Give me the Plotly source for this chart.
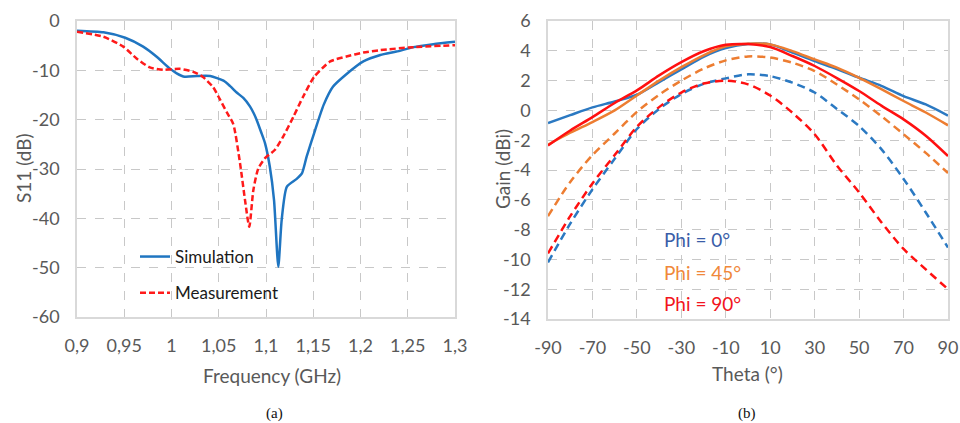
import plotly.graph_objects as go

# ---------------- Panel (a): S11 ----------------
sim_f = [0.900, 0.928, 0.951, 0.970, 0.984, 0.998, 1.0055, 1.014, 1.027, 1.041, 1.055, 1.062,
         1.069, 1.076, 1.083, 1.087, 1.090, 1.095, 1.099, 1.104, 1.1085, 1.113, 1.1166, 1.122,
         1.1325, 1.138, 1.143, 1.152, 1.161, 1.171, 1.185, 1.203, 1.221, 1.238, 1.256, 1.277,
         1.300]
sim_db = [-1.97, -2.3, -3.4, -5.2, -7.2, -9.6, -10.6, -11.3, -11.15, -11.15, -12.1, -13.2,
          -14.5, -15.6, -17.3, -18.7, -20.0, -22.6, -24.8, -29.5, -36.3, -49.8, -40.3, -33.6,
          -32.0, -30.9, -27.5, -22.1, -17.0, -13.3, -10.8, -8.2, -6.9, -6.2, -5.3, -4.7,
          -4.2]

meas_f = [0.900, 0.928, 0.949, 0.963, 0.977, 0.991, 1.009, 1.023, 1.033, 1.044, 1.051, 1.0585,
          1.0654, 1.0725, 1.0778, 1.0823, 1.0866, 1.0918, 1.099, 1.1095, 1.118, 1.129,
          1.1394, 1.151, 1.168, 1.185, 1.203, 1.221, 1.256, 1.300]
meas_db = [-2.2, -3.2, -5.2, -7.6, -9.4, -9.9, -9.7, -10.3, -11.3, -13.4, -15.8, -18.5,
           -20.9, -28.8, -36.3, -41.7, -34.3, -29.9, -27.8, -26.1, -23.5, -19.4,
           -15.3, -11.3, -8.2, -7.2, -6.4, -5.9, -5.3, -4.9]

freq_ticks = [0.9, 0.95, 1.0, 1.05, 1.1, 1.15, 1.2, 1.25, 1.3]
freq_labels = ["0,9", "0,95", "1", "1,05", "1,1", "1,15", "1,2", "1,25", "1,3"]
s11_ticks = [0, -10, -20, -30, -40, -50, -60]
s11_labels = ["0", "-10", "-20", "-30", "-40", "-50", "-60"]

# ---------------- Panel (b): Gain ----------------
theta = [-90, -80, -70, -60, -50, -40, -30, -20, -10, 0, 10, 20, 30, 40, 50, 60, 70, 80, 90]
phi0_co = [-0.85, -0.32, 0.2, 0.6, 1.05, 1.9, 2.75, 3.6, 4.18, 4.45, 4.43, 3.88, 3.31, 2.78,
           2.19, 1.65, 0.96, 0.4, -0.35]
phi45_co = [-2.3, -1.5, -0.78, 0.0, 1.0, 2.0, 2.9, 3.7, 4.3, 4.48, 4.43, 3.98, 3.42, 2.87,
            2.19, 1.43, 0.63, -0.14, -1.0]
phi90_co = [-2.35, -1.35, -0.45, 0.5, 1.34, 2.35, 3.24, 3.97, 4.4, 4.45, 4.25, 3.65, 2.98, 2.17,
            1.3, 0.32, -0.6, -1.7, -3.06]
phi0_x = [-10.2, -7.6, -5.3, -3.25, -1.25, 0.1, 1.1, 1.78, 2.15, 2.42, 2.3, 1.86, 1.2, 0.1,
          -1.05, -2.6, -4.6, -6.85, -9.2]
phi45_x = [-7.1, -4.8, -3.0, -1.55, -0.1, 1.05, 2.0, 2.8, 3.36, 3.62, 3.55, 3.2, 2.64, 1.74,
           0.74, -0.38, -1.6, -2.85, -4.2]
phi90_x = [-9.6, -7.1, -4.9, -3.0, -1.1, 0.22, 1.2, 1.8, 2.0, 1.75, 1.0, -0.16, -1.6, -3.7,
           -5.5, -7.5, -9.3, -10.67, -12.0]

theta_ticks = [-90, -70, -50, -30, -10, 10, 30, 50, 70, 90]
theta_labels = ["-90", "-70", "-50", "-30", "-10", "10", "30", "50", "70", "90"]
gain_ticks = [6, 4, 2, 0, -2, -4, -6, -8, -10, -12, -14]
gain_labels = ["6", "4", "2", "0", "-2", "-4", "-6", "-8", "-10", "-12", "-14"]

BLUE_A = "#1F75C1"
RED_A = "#FF1A1A"
BLUE = "#2B79C2"
ORANGE = "#ED7D31"
RED = "#FF1010"
GRAY = "#595959"
FONT = "Lato"

fig = go.Figure()

fig.add_trace(go.Scatter(x=sim_f, y=sim_db, mode="lines", name="Simulation",
                         line=dict(color=BLUE_A, width=2.5, shape="spline", smoothing=0.6),
                         xaxis="x", yaxis="y", legendgroup="a"))
fig.add_trace(go.Scatter(x=meas_f, y=meas_db, mode="lines", name="Measurement",
                         line=dict(color=RED_A, width=2.5, dash="6px,3px", shape="spline",
                                   smoothing=0.6),
                         xaxis="x", yaxis="y", legendgroup="b"))

series_b = [
    (phi0_co, BLUE, "solid"), (phi45_co, ORANGE, "solid"), (phi90_co, RED, "solid"),
    (phi0_x, BLUE, "8px,5px"), (phi45_x, ORANGE, "8px,5px"), (phi90_x, RED, "8px,5px"),
]
for vals, col, dash in series_b:
    fig.add_trace(go.Scatter(x=theta, y=vals, mode="lines", showlegend=False,
                             line=dict(color=col, width=2.5, dash=dash, shape="spline",
                                       smoothing=0.8),
                             xaxis="x2", yaxis="y2"))

axis_common = dict(showgrid=True, gridcolor="#C8C8C8", griddash="dash", gridwidth=1.3,
                   showline=True, mirror=True, linecolor="#D9D9D9", linewidth=1.5,
                   zeroline=False, ticks="", automargin=False,
                   tickfont=dict(family=FONT, size=18, color=GRAY),
                   ticklabelstandoff=12)

fig.update_layout(
    width=960, height=423,
    margin=dict(l=0, r=0, t=0, b=0, pad=0, autoexpand=False),
    paper_bgcolor="white", plot_bgcolor="white",
    font=dict(family=FONT, color=GRAY),
    xaxis=dict(domain=[77 / 960, 455 / 960], range=[0.9, 1.3], tickvals=freq_ticks,
               ticktext=freq_labels, anchor="y", **axis_common),
    yaxis=dict(domain=[(423 - 317) / 423, (423 - 21) / 423], range=[-60, 0],
               tickvals=s11_ticks, ticktext=s11_labels, anchor="x", **axis_common),
    xaxis2=dict(domain=[548 / 960, 948 / 960], range=[-90, 90], tickvals=theta_ticks,
                ticktext=theta_labels, anchor="y2", **axis_common),
    yaxis2=dict(domain=[(423 - 319) / 423, (423 - 21) / 423], range=[-14, 6],
                tickvals=gain_ticks, ticktext=gain_labels, anchor="x2", **axis_common),
    showlegend=True,
    legend=dict(x=135 / 960, y=(423 - 239) / 423, xanchor="left", yanchor="top",
                bgcolor="rgba(0,0,0,0)", font=dict(family=FONT, size=17, color="#1A1A1A"),
                traceorder="grouped", tracegroupgap=11),
)

ann = []
def add_text(text, x, y, size, color, family=FONT, angle=0, xanchor="center"):
    ann.append(dict(text=text, x=x / 960, y=(423 - y) / 423, xref="paper", yref="paper",
                    showarrow=False, xanchor=xanchor, yanchor="middle", textangle=angle,
                    font=dict(family=family, size=size, color=color)))

add_text("Frequency (GHz)", 272, 375, 19, GRAY)
add_text("S11 (dB)", 23, 168, 19, GRAY, angle=-90)
add_text("Theta (°)", 747, 373, 19, GRAY)
add_text("Gain (dBi)", 502, 169, 19, GRAY, angle=-90)
add_text("Phi = 0°", 662, 239, 19, "#3A5DA8", xanchor="left")
add_text("Phi = 45°", 662, 272, 19, "#F0883A", xanchor="left")
add_text("Phi = 90°", 662, 303, 19, "#F21420", xanchor="left")
add_text("(a)", 274, 413, 15, "#111111", family="Liberation Serif")
add_text("(b)", 747, 413, 15, "#111111", family="Liberation Serif")
fig.update_layout(annotations=ann)

fig.write_html("out.html", config={"displayModeBar": False},
               post_script="document.body.style.margin='0';document.body.style.overflow='hidden';")
